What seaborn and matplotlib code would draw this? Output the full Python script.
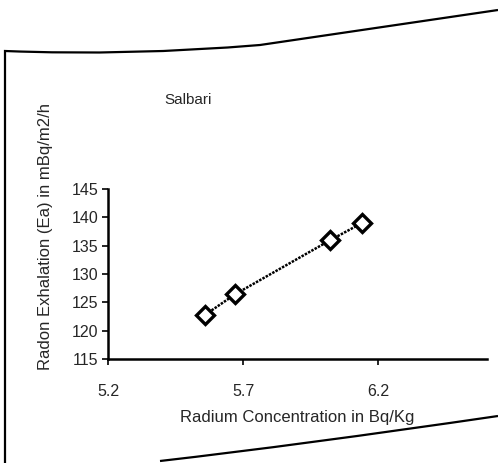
import matplotlib
matplotlib.use("Agg")
import matplotlib.pyplot as plt
import seaborn as sns
import pandas as pd
from matplotlib.path import Path
from matplotlib.patches import PathPatch

# values
radium = [5.56, 5.67, 6.02, 6.14]
exhalation = [122.8, 126.4, 135.9, 139.0]
x_ticks = [5.2, 5.7, 6.2]
y_ticks = [115, 120, 125, 130, 135, 140, 145]

df = pd.DataFrame({"Radium": radium, "Exhalation": exhalation})

sns.set_style("white")
plt.rcParams['font.family'] = ['Liberation Sans', 'DejaVu Sans']

fig = plt.figure(figsize=(4.98, 4.63), dpi=100)
ax = fig.add_axes([0.217, 0.225, 0.76, 0.367])

sns.lineplot(data=df, x="Radium", y="Exhalation", ax=ax, color="black",
             linewidth=1.8, linestyle=(0, (1, 0.5)), marker="D", markersize=9,
             markerfacecolor="white", markeredgecolor="black", markeredgewidth=2.4)

ax.set_xlim(5.2, 6.6)
ax.set_ylim(115, 145)
ax.set_xticks(x_ticks)
ax.set_xticklabels([str(t) for t in x_ticks], fontsize=11.5)
ax.set_yticks(y_ticks)
ax.set_yticklabels([str(t) for t in y_ticks], fontsize=11.5)
ax.tick_params(axis="y", direction="out", length=4, width=1.4, left=True, pad=3)
ax.tick_params(axis="x", direction="out", length=4, width=1.4, bottom=True, pad=14)
sns.despine(ax=ax)
for s in ["left", "bottom"]:
    ax.spines[s].set_linewidth(1.8)
    ax.spines[s].set_color("black")

ax.set_xlabel("Radium Concentration in Bq/Kg", fontsize=12, labelpad=8)
ax.set_ylabel("Radon Exhalation (Ea) in mBq/m2/h", fontsize=12)
ax.yaxis.set_label_coords(-0.145, 0.72)
ax.text(0.15, 1.5, "Salbari", transform=ax.transAxes, fontsize=11, ha="left")

# outline of the chart area (curved like the scan)
W, H = 498, 463
def fig_path(pts, codes):
    verts = [(x / W, 1 - y / H) for x, y in pts]
    return PathPatch(Path(verts, codes), transform=fig.transFigure,
                     facecolor="none", edgecolor="black", lw=1.6)

fig.add_artist(fig_path([(5, 463), (5, 51), (130, 56), (260, 45), (498, 10)],
                        [Path.MOVETO, Path.LINETO, Path.CURVE3, Path.CURVE3, Path.LINETO]))
fig.add_artist(fig_path([(160, 461), (300, 445), (498, 416)],
                        [Path.MOVETO, Path.CURVE3, Path.CURVE3]))

fig.savefig("out.png", dpi=100)
